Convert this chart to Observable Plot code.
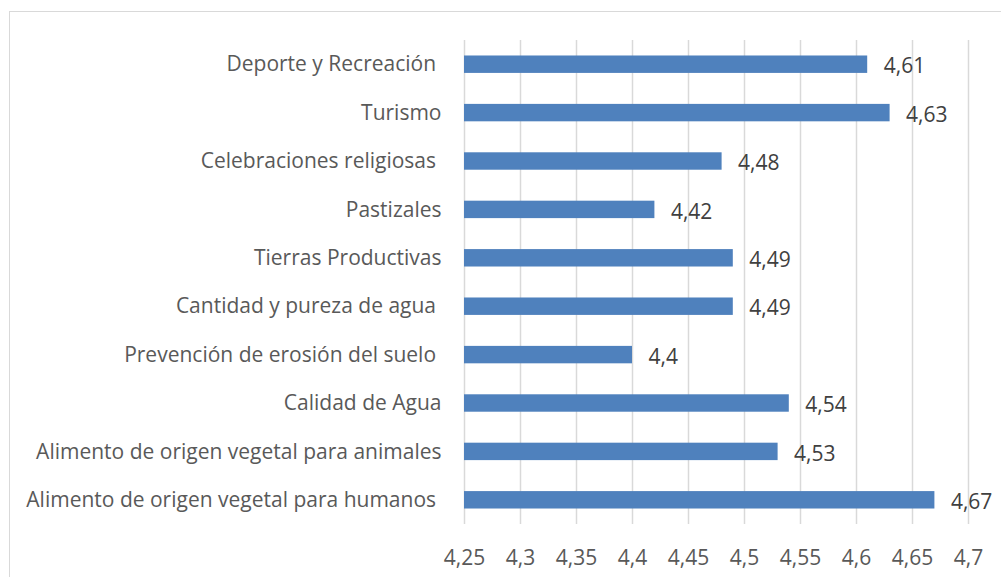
<!DOCTYPE html>
<html>
<head>
<meta charset="utf-8">
<script src="https://cdn.jsdelivr.net/npm/d3@7"></script>
<script src="https://cdn.jsdelivr.net/npm/@observablehq/plot@0.6"></script>
<style>
  html, body { margin: 0; padding: 0; background: #fff; }
  #wrap { position: relative; width: 1001px; height: 577px; overflow: hidden; }
  #frame { position: absolute; left: 9px; top: 11px; right: -5px; bottom: -5px;
           border-left: 1px solid #d9d9d9; border-top: 1px solid #d9d9d9; pointer-events: none; }
  #wrap svg { position: absolute; left: 0; top: 0; }
  #wrap svg text { white-space: pre; }
</style>
</head>
<body>
<div id="wrap"><div id="frame"></div></div>
<script>
const categories = [
  "Deporte y Recreación ",
  "Turismo",
  "Celebraciones religiosas ",
  "Pastizales",
  "Tierras Productivas",
  "Cantidad y pureza de agua ",
  "Prevención de erosión del suelo ",
  "Calidad de Agua",
  "Alimento de origen vegetal para animales",
  "Alimento de origen vegetal para humanos "
];
const values = [4.61, 4.63, 4.48, 4.42, 4.49, 4.49, 4.40, 4.54, 4.53, 4.67];
const xTicks = [4.25, 4.3, 4.35, 4.4, 4.45, 4.5, 4.55, 4.6, 4.65, 4.7];
const xBase = 4.25;

const data = categories.map((c, i) => ({cat: c, value: values[i]}));
const fmt = d => String(+d.toFixed(2)).replace(".", ",");

const chart = Plot.plot({
  width: 1001,
  height: 577,
  marginLeft: 464,
  marginRight: 33,
  marginTop: 40,
  marginBottom: 53,
  style: {fontFamily: "'Open Sans', sans-serif", fontSize: "21px", background: "transparent"},
  x: {domain: [4.25, 4.7]},
  y: {domain: categories, paddingInner: 0.64, paddingOuter: 0.32, round: false},
  marks: [
    Plot.gridX(xTicks, {stroke: "#d9d9d9", strokeOpacity: 1, strokeWidth: 1.5}),
    Plot.axisX(xTicks, {tickSize: 0, tickPadding: 26, tickFormat: fmt, fill: "#595959", fontSize: 21, label: null}),
    Plot.axisY({tickSize: 0, tickPadding: 23, fill: "#595959", fontSize: 21, label: null}),
    Plot.barX(data, {y: "cat", x1: xBase, x2: "value", fill: "#4f81bd"}),
    Plot.text(data, {y: "cat", x: "value", text: d => fmt(d.value), textAnchor: "start", dx: 16, dy: 2, fill: "#404040", fontSize: 21})
  ]
});
document.getElementById("wrap").appendChild(chart);
</script>
</body>
</html>
